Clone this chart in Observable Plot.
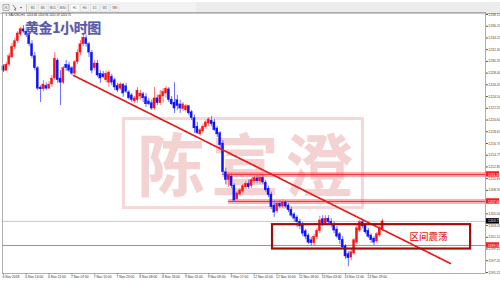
<!DOCTYPE html>
<html>
<head>
<meta charset="utf-8">
<script src="https://cdn.jsdelivr.net/npm/d3@7"></script>
<script src="https://cdn.jsdelivr.net/npm/@observablehq/plot@0.6"></script>
<style>
html,body{margin:0;padding:0;background:#fff;}
#wrap{position:relative;width:500px;height:281px;overflow:hidden;background:#fff;font-family:"Liberation Sans",sans-serif;}
#toolbar{position:absolute;left:0;top:0;width:500px;height:12px;}
#wm{position:absolute;left:122px;top:117px;width:236px;height:86px;border:3px solid #f5d8d8;}
#wm span{position:absolute;top:2px;font:700 68px/80px "Noto Sans CJK SC";color:#f4d2d2;}
#chart{position:absolute;left:0;top:11px;}
#title{position:absolute;left:25px;top:19px;font:700 14px/17px "Noto Sans CJK SC";color:#5a5aaa;letter-spacing:-0.4px;text-shadow:0 0 1px #b8b8e0;}
</style>
</head>
<body>
<div id="wrap">
  <div id="toolbar"></div>
  <div id="wm"><span style="left:12px">陈</span><span style="left:86px">宣</span><span style="left:160px">澄</span></div>
  <div id="chart"></div>
  <div id="title">黄金1小时图</div>
</div>
<script>
// ---- data (XAUUSD H1) ----
const openP = [1229.5,1228.8,1229.8,1231.0,1232.7,1233.7,1234.8,1235.7,1235.3,1234.8,
1233.2,1231.2,1229.2,1226.0,1225.7,1226.3,1225.8,1226.5,1227.5,1230.5,
1227.5,1226.8,1229.8,1229.7,1229.2,1228.3,1230.2,1231.8,1233.2,1234.2,
1233.2,1231.8,1229.2,1230.0,1228.3,1228.2,1227.2,1226.8,1227.8,1227.2,
1226.3,1225.8,1226.5,1226.2,1225.2,1224.7,1223.7,1223.9,1224.5,1224.9,
1224.4,1223.7,1223.4,1222.5,1224.2,1223.4,1224.5,1225.0,1225.7,1224.0,
1223.5,1223.9,1223.2,1222.4,1222.2,1222.9,1221.9,1220.9,1219.5,1218.2,
1218.7,1219.4,1220.0,1220.5,1220.2,1219.2,1218.4,1216.7,1211.9,1210.6,
1211.2,1209.7,1207.4,1208.2,1208.7,1209.4,1210.0,1209.6,1210.4,1210.9,
1210.4,1211.0,1210.2,1209.2,1208.2,1206.4,1205.4,1206.7,1206.2,1206.9,
1206.4,1205.7,1204.9,1204.4,1203.7,1203.1,1202.1,1201.4,1200.6,1200.1,
1201.1,1202.1,1204.1,1203.4,1204.2,1203.7,1203.2,1202.4,1201.6,1200.7,
1199.6,1198.3,1197.7,1198.4,1200.2,1202.2,1203.6,1203.1,1202.2,1201.4,
1200.9,1200.4,1201.4,1202.4];
const highP = [1229.8,1230.2,1231.7,1233.3,1234.2,1235.3,1236.0,1236.3,1236.0,1235.0,
1233.8,1231.8,1229.5,1226.3,1227.2,1226.8,1227.0,1228.0,1231.8,1230.8,
1228.8,1229.5,1230.5,1230.2,1229.5,1230.5,1232.3,1233.8,1235.0,1234.7,
1233.5,1232.2,1230.5,1230.5,1228.8,1228.7,1228.7,1228.8,1228.2,1227.5,
1226.7,1226.8,1226.7,1226.7,1225.5,1225.0,1224.5,1226.0,1225.5,1225.2,
1225.0,1224.2,1223.9,1226.0,1224.7,1225.5,1225.8,1226.2,1226.0,1224.5,
1226.8,1224.7,1223.9,1223.5,1223.2,1223.0,1222.2,1221.4,1220.2,1219.2,
1219.9,1220.5,1221.0,1221.2,1220.7,1219.5,1218.7,1217.2,1212.6,1211.9,
1211.7,1210.0,1208.7,1209.2,1209.9,1210.4,1210.6,1210.9,1211.4,1211.4,
1211.4,1211.4,1210.6,1209.6,1208.6,1207.2,1207.2,1207.2,1207.4,1207.2,
1206.7,1206.1,1205.2,1204.7,1204.1,1203.6,1202.4,1201.7,1201.1,1201.6,
1202.6,1204.6,1204.7,1204.7,1204.7,1204.2,1203.7,1202.9,1201.9,1201.2,
1199.9,1198.7,1199.2,1200.9,1203.1,1203.9,1204.1,1203.4,1202.6,1201.7,
1201.2,1201.9,1202.9,1204.1];
const lowP = [1228.5,1228.7,1229.5,1230.8,1232.3,1233.3,1234.5,1235.0,1234.3,1232.8,
1230.8,1228.8,1225.5,1223.5,1225.3,1225.5,1225.7,1226.0,1227.2,1226.7,
1223.0,1226.5,1228.7,1228.5,1228.0,1228.0,1229.8,1231.3,1232.8,1232.7,
1231.0,1228.3,1228.8,1227.7,1226.7,1227.5,1226.8,1226.0,1226.3,1225.5,
1225.2,1225.5,1224.4,1225.0,1223.9,1223.5,1223.4,1223.4,1223.9,1223.5,
1222.7,1223.0,1222.2,1222.2,1223.0,1223.0,1223.4,1224.2,1223.5,1223.0,
1221.7,1222.2,1221.7,1222.0,1221.9,1221.4,1220.5,1218.4,1218.2,1217.9,
1218.4,1219.0,1219.5,1219.5,1218.7,1217.7,1215.9,1211.4,1209.9,1209.4,
1209.2,1206.9,1207.1,1207.9,1208.4,1209.1,1209.1,1209.2,1210.0,1210.0,
1209.9,1209.9,1208.6,1207.7,1205.7,1204.4,1205.1,1205.9,1205.9,1205.9,
1205.2,1204.4,1203.6,1202.7,1202.4,1201.2,1200.7,1199.9,1199.6,1199.7,
1200.7,1201.7,1202.9,1203.1,1203.2,1202.7,1201.7,1200.9,1199.9,1199.1,
1197.4,1196.2,1197.2,1198.1,1199.9,1201.9,1202.6,1201.6,1200.9,1200.1,
1199.7,1200.1,1201.1,1202.1];
const closeP = [1228.8,1229.8,1231.2,1232.8,1233.7,1235.0,1235.7,1235.3,1234.7,1233.2,
1231.2,1229.2,1225.8,1225.7,1226.5,1225.8,1226.5,1227.5,1230.8,1227.2,
1226.8,1229.2,1229.2,1228.8,1228.3,1230.2,1231.8,1233.2,1234.3,1233.2,
1231.8,1228.8,1230.0,1228.0,1227.5,1227.7,1228.3,1228.5,1226.8,1226.0,
1225.5,1226.5,1225.0,1225.3,1224.2,1223.9,1224.2,1225.5,1225.0,1224.2,
1223.2,1223.2,1222.5,1224.2,1223.4,1224.7,1225.3,1225.8,1223.9,1223.2,
1222.5,1222.9,1222.5,1223.2,1222.9,1221.7,1220.9,1219.2,1218.4,1218.9,
1219.5,1220.2,1220.7,1219.9,1218.9,1218.2,1216.4,1211.9,1210.6,1211.4,
1209.6,1207.2,1208.4,1208.9,1209.6,1210.0,1209.4,1210.6,1211.0,1210.4,
1211.0,1210.2,1208.9,1208.1,1206.1,1205.2,1206.7,1206.2,1206.9,1206.2,
1205.6,1204.7,1204.2,1203.6,1202.9,1201.7,1201.2,1200.2,1200.1,1201.2,
1202.2,1203.9,1203.4,1204.2,1203.6,1203.1,1202.2,1201.2,1200.6,1199.4,
1197.9,1197.6,1198.6,1200.6,1202.6,1203.6,1202.9,1201.9,1201.2,1200.6,
1200.2,1201.6,1202.6,1203.75];

// time-axis labels (every 8 bars)
const dateLabels = ["6 Nov 2018","6 Nov 14:00","6 Nov 22:00","7 Nov 07:00","7 Nov 15:00","7 Nov 23:00",
"8 Nov 08:00","8 Nov 16:00","9 Nov 01:00","9 Nov 09:00","9 Nov 17:00","12 Nov 02:00",
"12 Nov 10:00","12 Nov 18:00","13 Nov 03:00","13 Nov 11:00","13 Nov 19:00"];
const dateBarIdx = [0,8,16,24,32,40,48,56,64,72,80,88,96,104,112,120,128];

// price-axis labels
const priceTicks = [1238.15,1236.20,1234.25,1232.30,1230.35,1228.40,1226.45,1224.50,1222.55,1220.60,
1218.65,1216.70,1214.75,1212.80,1210.85,1208.90,1206.95,1205.00,1203.05,1201.10,1199.15,1197.20,1195.25];

// annotations
const bandLevels = [1211.55, 1207.06];       // horizontal resistance bands
const bandStartBar = [77, 79];
const supportLevel = 1199.74;                 // thin red line
const lastClose = 1203.75;
const trendBars = [24.6, 156.8];              // downward trend line
const trendPrices = [1228.0, 1196.75];
const boxBars = [94.4, 163.9];                // consolidation box
const boxPrices = [1199.15, 1203.2];
const boxText = "区间震荡";
const headerText = "XAUUSD,H1  1203.84 1203.94 1202.59 1203.75";
const periods = ["M1","M5","M15","M30","H1","H4","D1","W1","MN"];

// ---- build ----
const candles = openP.map((o,i)=>({i, open:o, high:highP[i], low:lowP[i], close:closeP[i]}));
const up = d => d.close >= d.open;
const bands = bandLevels.map((p,k)=>({p, from: bandStartBar[k]}));
const trend = trendBars.map((b,k)=>({i:b, p:trendPrices[k]}));
const box = {x1: boxBars[0], x2: boxBars[1], y1: boxPrices[0], y2: boxPrices[1]};
const flags = [
  {p: bandLevels[0], bg:"#ff1a1a"},
  {p: bandLevels[1], bg:"#ff1a1a"},
  {p: lastClose, bg:"#000000"},
  {p: supportLevel, bg:"#ff1a1a"}
];
const X0 = -0.35, X1 = 169.12, Y0 = 1195.08, Y1 = 1238.48;
const pxPerBar = 483/(X1-X0);

const chart = Plot.plot({
  width: 500, height: 270,
  marginTop: 1, marginBottom: 8, marginLeft: 2, marginRight: 15,
  x: {domain: [X0, X1], axis: null},
  y: {domain: [Y0, Y1], axis: null},
  style: {background: "transparent", fontFamily: "Liberation Sans, sans-serif"},
  marks: [
    Plot.ruleY([lastClose], {stroke: "#b4bccc", strokeWidth: 0.8}),
    Plot.ruleY([supportLevel], {stroke: "#f07070", strokeWidth: 1}),
    Plot.ruleY(bands, {y: "p", x1: "from", x2: X1, stroke: "#ff4d4d", strokeOpacity: 0.45, strokeWidth: 5}),
    Plot.ruleY(bands, {y: "p", x1: "from", x2: X1, stroke: "#ee1c1c", strokeOpacity: 0.85, strokeWidth: 1}),
    Plot.ruleX(candles, {x: "i", y1: "low", y2: "high", stroke: d => up(d) ? "#ff7070" : "#7070ff", strokeWidth: 1}),
    Plot.rect(candles, {x1: d => d.i - 0.38, x2: d => d.i + 0.38, y1: "open", y2: "close",
      fill: d => up(d) ? "#ff1010" : "#1010ff", stroke: d => up(d) ? "#ff1010" : "#1010ff", strokeWidth: 0.3}),
    Plot.line(trend, {x: "i", y: "p", stroke: "#e41b1b", strokeWidth: 1.7, strokeDasharray: "3,1"}),
    Plot.rect([box], {x1: "x1", x2: "x2", y1: "y1", y2: "y2", fill: "none", stroke: "#9e0e0e", strokeWidth: 2.2}),
    Plot.text([boxText], {x: (boxBars[0] + boxBars[1]) / 2 + 20, y: (boxPrices[0] + boxPrices[1]) / 2,
      text: d => d, fill: "#e42a2a", fontSize: 9.5, fontFamily: "Noto Sans CJK SC", fontWeight: 500}),
    Plot.frame({stroke: "#9c9c9c", strokeWidth: 0.8}),
    Plot.axisY(priceTicks, {anchor: "right", tickSize: 1.8, tickPadding: 1, fontSize: 3.4,
      tickFormat: d => d.toFixed(2), color: "#444"}),
    Plot.rect(flags, {x1: X1 + 0.9 / pxPerBar, x2: X1 + 14 / pxPerBar, y1: d => d.p - 0.45, y2: d => d.p + 0.45, fill: "bg"}),
    Plot.text(flags, {x: X1 + 2.6 / pxPerBar, y: "p", text: d => d.p.toFixed(2), textAnchor: "start",
      fill: "white", fontSize: 3.4}),
    Plot.ruleX(dateBarIdx, {x: d => d, y1: Y0, y2: Y0 - 0.3, stroke: "#666", strokeWidth: 0.6}),
    Plot.text(dateBarIdx, {x: d => d, text: (d, k) => dateLabels[k], frameAnchor: "bottom", textAnchor: "start",
      lineAnchor: "top", dy: 2, dx: -1, fontSize: 3.3, fill: "#333"}),
    Plot.text([headerText], {frameAnchor: "top-left", dx: 6, dy: 1.4, textAnchor: "start", lineAnchor: "top",
      fontSize: 2.9, fill: "#222", text: d => d}),
    Plot.text(["▼"], {frameAnchor: "top-left", dx: 2.5, dy: 1.6, textAnchor: "start", lineAnchor: "top",
      fontSize: 2.6, fill: "#222", text: d => d})
  ]
});
document.getElementById("chart").appendChild(chart);

// toolbar
const tb = d3.select("#toolbar").append("svg").attr("width", 500).attr("height", 12);
tb.append("rect").attr("width", 500).attr("height", 12).attr("fill", "#ececec");
tb.append("rect").attr("x", 0).attr("width", 196).attr("height", 11).attr("fill", "#f3f3f3");
tb.append("line").attr("x1", 0).attr("x2", 500).attr("y1", 11.5).attr("y2", 11.5).attr("stroke", "#c4c4c4");
tb.append("rect").attr("x", 3).attr("y", 2.5).attr("width", 6).attr("height", 6).attr("fill", "none").attr("stroke", "#888").attr("stroke-width", 0.6);
tb.append("path").attr("d", "M4.5 4 L7.5 7 M7.5 4 L4.5 7").attr("stroke", "#666").attr("stroke-width", 0.6);
tb.append("path").attr("d", "M13 3 L16 7 L14.5 7 L15.5 9").attr("stroke", "#555").attr("fill", "none").attr("stroke-width", 0.7);
tb.append("path").attr("d", "M20 5 L22 5 L21 6.5 Z").attr("fill", "#444");
[26.5, 68.5].forEach(x => tb.append("line").attr("x1", x).attr("x2", x).attr("y1", 2).attr("y2", 10).attr("stroke", "#c8c8c8"));
periods.forEach((p, k) => {
  const bx = 28.5 + k * 10 + (k >= 4 ? 2 : 0);
  tb.append("rect").attr("x", bx).attr("y", 2.5).attr("width", 8.5).attr("height", 7)
    .attr("fill", p === "H1" ? "#ffffff" : "none").attr("stroke", "#d6d6d6").attr("stroke-width", 0.5);
  tb.append("text").attr("x", bx + 4.25).attr("y", 7.3).attr("text-anchor", "middle")
    .attr("font-size", 3).attr("font-family", "Liberation Sans").attr("fill", "#555").text(p);
});
</script>
</body>
</html>
